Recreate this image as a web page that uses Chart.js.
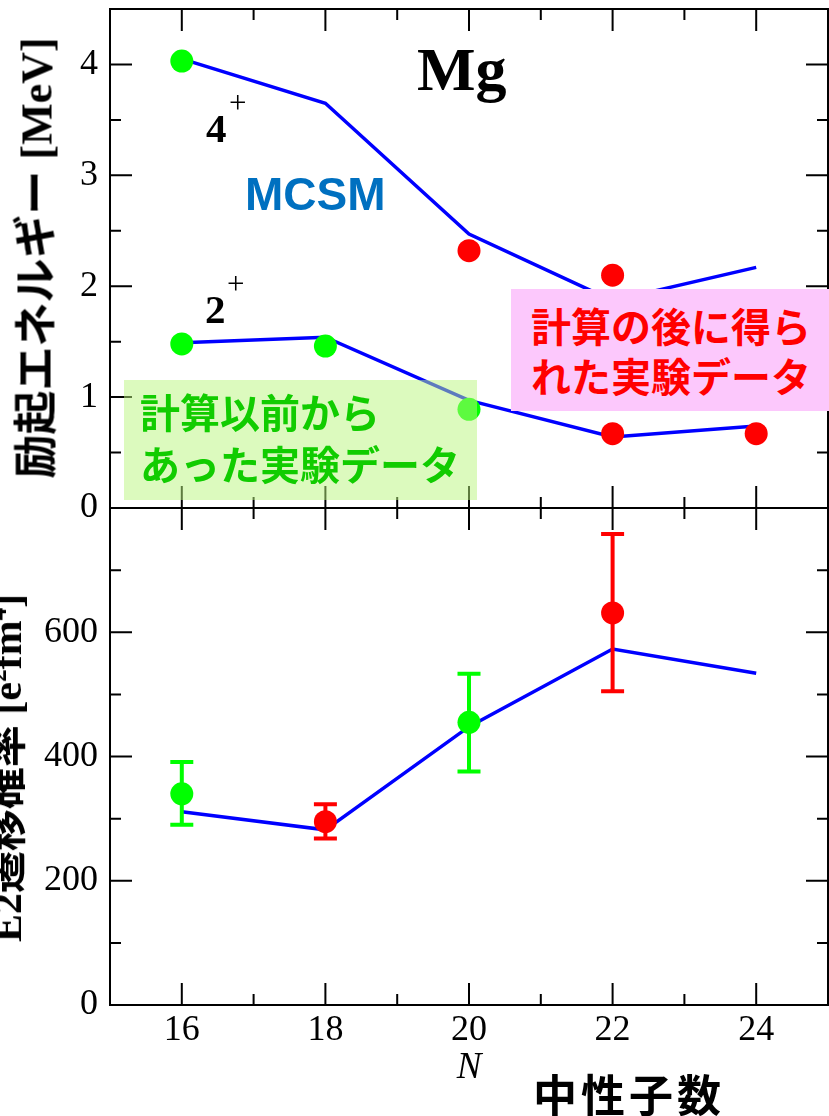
<!DOCTYPE html>
<html>
<head>
<meta charset="utf-8">
<script src="https://cdn.jsdelivr.net/npm/chart.js@4"></script>
<style>
  body { margin: 0; background: #fff; }
  #wrap { position: relative; width: 829px; height: 1116px; overflow: hidden; background: #fff; }
  canvas { position: absolute; left: 0; }
  .ov { position: absolute; white-space: nowrap; line-height: 1; }
  .serif { font-family: "Liberation Serif", serif; }
  .jp { font-family: "Noto Sans CJK JP", sans-serif; font-weight: bold; }
  .box { position: absolute; }
  .rot { position: absolute; white-space: nowrap; line-height: 1; transform: translate(-50%, -50%) rotate(-90deg); }
</style>
</head>
<body>
<div id="wrap">
  <canvas id="top-chart" width="829" height="540" style="top:0"></canvas>
  <canvas id="bottom-chart" width="829" height="620" style="top:496px"></canvas>

  <div class="box" style="left:124px; top:380px; width:353px; height:120px; background:rgba(185,245,125,0.5);"></div>
  <div class="ov jp" style="left:140px; top:385px; font-size:40px; line-height:52px; color:#11cc00;">計算以前から<br>あった実験データ</div>

  <div class="box" style="left:511px; top:289px; width:318px; height:122px; background:#fcc8fc;"></div>
  <div class="ov jp" style="left:531px; top:300px; font-size:40px; line-height:50px; color:#ff0000;">計算の後に得ら<br>れた実験データ</div>

  <div class="ov serif" style="left:417px; top:38px; font-size:62px; font-weight:bold;">Mg</div>
  <div class="ov serif" style="left:206px; top:108px; font-size:41px; font-weight:bold;">4</div>
  <div class="ov serif" style="left:229px; top:87px; font-size:31px;">+</div>
  <div class="ov serif" style="left:205px; top:289px; font-size:41px; font-weight:bold;">2</div>
  <div class="ov serif" style="left:227px; top:268px; font-size:31px;">+</div>
  <div class="ov" style="left:245px; top:171px; font-size:46px; font-weight:bold; font-family:'Liberation Sans', sans-serif; color:#0070c0;">MCSM</div>

  <div class="rot" style="left:35px; top:258px; font-size:44px;"><span class="jp">励起エネルギー</span><span class="serif" style="font-weight:bold;"> [MeV]</span></div>
  <div class="rot" style="left:5px; top:768px; font-size:42px;"><span class="serif" style="font-weight:bold;">E2</span><span class="jp">遷移確率</span><span class="serif" style="font-weight:bold;"> [e<sup style="font-size:0.6em">2</sup>fm<sup style="font-size:0.6em">4</sup>]</span></div>

  <div class="ov serif" style="left:469px; top:1047px; font-size:37px; font-style:italic; transform:translateX(-50%);">N</div>
  <div class="ov jp" style="left:533px; top:1071px; font-size:44px; letter-spacing:4px;">中性子数</div>
</div>

<script>
// neutron number N
const N = [16, 18, 20, 22, 24];

// excitation energies [MeV]
const mcsm4plus = [4.05, 3.65, 2.47, 1.87, 2.17];
const mcsm2plus = [1.49, 1.54, 0.97, 0.64, 0.74];

// experiment known before the calculation (green)
const before4N = [16];
const before4E = [4.03];
const before2N = [16, 18, 20];
const before2E = [1.48, 1.46, 0.89];

// experiment obtained after the calculation (red)
const after4N = [20, 22];
const after4E = [2.32, 2.10];
const after2N = [22, 24];
const after2E = [0.67, 0.67];

// B(E2) [e^2 fm^4]
const mcsmBE2 = [311, 282, 448, 573, 534];
const beforeBE2N = [16, 20];
const beforeBE2 = [340, 455];
const beforeBE2Lo = [290, 376];
const beforeBE2Hi = [391, 533];
const afterBE2N = [18, 22];
const afterBE2 = [295, 631];
const afterBE2Lo = [268, 505];
const afterBE2Hi = [323, 758];

// tick labels
const xTickLabels = ['16', '18', '20', '22', '24'];
const energyTickLabels = ['0', '1', '2', '3', '4'];
const be2TickLabels = ['0', '200', '400', '600'];

const GREEN = '#00ff00';
const RED = '#ff0000';
const BLUE = '#0000ff';

const pts = (xs, ys) => xs.map((x, i) => ({ x: x, y: ys[i] }));

// frame with inward ticks on all four sides
const frameTicks = {
    id: 'frameTicks',
    afterDraw(chart, args, opts) {
        const { ctx, chartArea: a } = chart;
        const x = chart.scales.x, y = chart.scales.y;
        const isMajor = (v, step) => Math.abs(v / step - Math.round(v / step)) < 1e-6;
        ctx.save();
        ctx.strokeStyle = '#000';
        ctx.lineWidth = 2;
        ctx.beginPath();
        x.ticks.forEach(t => {
            const px = x.getPixelForValue(t.value);
            const len = isMajor(t.value, opts.xMajor) ? 22 : 11;
            ctx.moveTo(px, a.bottom); ctx.lineTo(px, a.bottom - len);
            ctx.moveTo(px, a.top); ctx.lineTo(px, a.top + len);
        });
        y.ticks.forEach(t => {
            const py = y.getPixelForValue(t.value);
            const len = isMajor(t.value, opts.yMajor) ? 22 : 11;
            ctx.moveTo(a.left, py); ctx.lineTo(a.left + len, py);
            ctx.moveTo(a.right, py); ctx.lineTo(a.right - len, py);
        });
        ctx.stroke();
        ctx.strokeRect(a.left, a.top, a.right - a.left, a.bottom - a.top);
        ctx.restore();
    }
};

// error bars, drawn right after the MCSM line so the points sit on top
const errorBars = {
    id: 'errorBars',
    afterDatasetDraw(chart, args, opts) {
        if (!opts.series || args.index !== opts.afterIndex) return;
        const { ctx } = chart;
        const x = chart.scales.x, y = chart.scales.y;
        ctx.save();
        ctx.lineWidth = 4;
        opts.series.forEach(s => {
            ctx.strokeStyle = s.color;
            s.n.forEach((n, i) => {
                const px = x.getPixelForValue(n);
                const lo = y.getPixelForValue(s.lo[i]);
                const hi = y.getPixelForValue(s.hi[i]);
                ctx.beginPath();
                ctx.moveTo(px, lo); ctx.lineTo(px, hi);
                ctx.moveTo(px - 11.5, lo); ctx.lineTo(px + 11.5, lo);
                ctx.moveTo(px - 11.5, hi); ctx.lineTo(px + 11.5, hi);
                ctx.stroke();
            });
        });
        ctx.restore();
    }
};

const tickFont = { family: 'Liberation Serif', size: 36 };

function yAxis(min, max, step, labels) {
    return {
        type: 'linear', min: min, max: max,
        grid: { display: false, drawTicks: false },
        border: { display: false },
        ticks: {
            stepSize: step, autoSkip: false, padding: 12, color: '#000', font: tickFont,
            callback: v => labels.includes(String(v)) ? String(v) : ''
        },
        afterFit: s => { s.width = 110; s.paddingTop = 0; s.paddingBottom = 0; }
    };
}

function xAxis(showLabels, height) {
    return {
        type: 'linear', min: 15, max: 25,
        grid: { display: false, drawTicks: false },
        border: { display: false },
        ticks: {
            display: showLabels, stepSize: 1, autoSkip: false, maxRotation: 0, padding: 4,
            color: '#000', font: tickFont,
            callback: v => xTickLabels.includes(String(v)) ? String(v) : ''
        },
        afterFit: s => { s.height = height; s.paddingLeft = 0; s.paddingRight = 0; }
    };
}

const pointSet = (data, color) => ({
    data: data, showLine: false, pointRadius: 11.5, pointHoverRadius: 11.5,
    pointBackgroundColor: color, pointBorderWidth: 0, backgroundColor: color
});
const lineSet = (data) => ({
    data: data, showLine: true, pointRadius: 0, borderColor: BLUE, borderWidth: 3.5, tension: 0
});

const baseOptions = {
    responsive: false, animation: false, devicePixelRatio: 1, events: [],
    plugins: { legend: { display: false }, tooltip: { enabled: false } }
};

const energyChart = new Chart(document.getElementById('top-chart'), {
    type: 'scatter',
    data: {
        datasets: [
            pointSet(pts(before4N, before4E).concat(pts(before2N, before2E)), GREEN),
            pointSet(pts(after4N, after4E).concat(pts(after2N, after2E)), RED),
            lineSet(pts(N, mcsm4plus)),
            lineSet(pts(N, mcsm2plus))
        ]
    },
    options: Object.assign({}, baseOptions, {
        layout: { autoPadding: false, padding: { top: 9, right: 1, bottom: 32, left: 0 } },
        scales: { x: xAxis(false, 0), y: yAxis(0, 4.5, 0.5, energyTickLabels) },
        plugins: Object.assign({}, baseOptions.plugins, { frameTicks: { xMajor: 2, yMajor: 1 } })
    }),
    plugins: [frameTicks]
});

const be2Chart = new Chart(document.getElementById('bottom-chart'), {
    type: 'scatter',
    data: {
        datasets: [
            pointSet(pts(beforeBE2N, beforeBE2), GREEN),
            pointSet(pts(afterBE2N, afterBE2), RED),
            lineSet(pts(N, mcsmBE2))
        ]
    },
    options: Object.assign({}, baseOptions, {
        layout: { autoPadding: false, padding: { top: 12, right: 1, bottom: 0, left: 0 } },
        scales: { x: xAxis(true, 111), y: yAxis(0, 800, 100, be2TickLabels) },
        plugins: Object.assign({}, baseOptions.plugins, {
            frameTicks: { xMajor: 2, yMajor: 200 },
            errorBars: {
                afterIndex: 2,
                series: [
                    { n: beforeBE2N, lo: beforeBE2Lo, hi: beforeBE2Hi, color: GREEN },
                    { n: afterBE2N, lo: afterBE2Lo, hi: afterBE2Hi, color: RED }
                ]
            }
        })
    }),
    plugins: [frameTicks, errorBars]
});
</script>
</body>
</html>
